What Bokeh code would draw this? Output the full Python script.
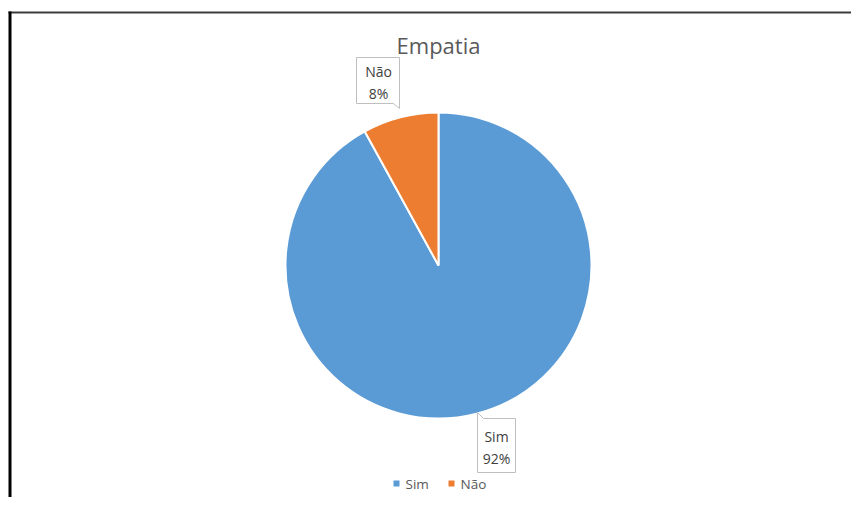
import math
from bokeh.plotting import figure
from bokeh.models import Range1d, ColumnDataSource
from bokeh.core.properties import value
from bokeh.embed import file_html
from bokeh.resources import INLINE

# ---- data ----
title = "Empatia"
categories = ["Sim", "Não"]
values = [92, 8]
colors = ["#5B9BD5", "#ED7D31"]

# ---- layout (screenshot pixel coordinates; y is negated) ----
W, H = 851, 497
CX, CY, R = 438, 265, 153
FONT = "Open Sans"

p = figure(width=W, height=H, output_backend="svg", toolbar_location=None,
           x_range=Range1d(0, W), y_range=Range1d(-H, 0),
           min_border=0, outline_line_color=None)
p.axis.visible = False
p.grid.visible = False
p.background_fill_color = "white"

# border (top and left lines of the original frame)
p.segment(x0=[8], y0=[-12], x1=[W], y1=[-12], line_color="#3c3c3c", line_width=2)
p.segment(x0=[9.5], y0=[-11], x1=[9.5], y1=[-H], line_color="black", line_width=3)

# pie wedges, clockwise from 12 o'clock
total = sum(values)
starts, ends, cum = [], [], 0.0
for v in values:
    a0 = math.pi / 2 - 2 * math.pi * cum / total
    a1 = a0 - 2 * math.pi * v / total
    starts.append(a0)
    ends.append(a1)
    cum += v
src = ColumnDataSource(dict(cat=categories, val=values, color=colors,
                            start=starts, end=ends))
p.wedge(x=CX, y=-CY, radius=R, start_angle="start", end_angle="end",
        direction="clock", fill_color="color", line_color="white", line_width=2,
        source=src)

# title
p.text(x=[CX], y=[-44], text=[title], text_font=value(FONT), text_font_size="22px",
       text_color="#595959", text_align="center", text_baseline="middle")

# data label callouts
pcts = [round(100 * v / total) for v in values]
callouts = {
    "Sim": dict(box=[(477, 412), (483, 418), (515, 418), (515, 472), (477, 472)],
                cx=496, l1=436, l2=458),
    "Não": dict(box=[(356, 57), (399, 57), (399, 108), (393, 103), (356, 103)],
                cx=378, l1=71, l2=93),
}
for cat, pct in zip(categories, pcts):
    c = callouts[cat]
    xs = [pt[0] for pt in c["box"]]
    ys = [-pt[1] for pt in c["box"]]
    p.patch(xs, ys, fill_color="white", line_color="#BFBFBF", line_width=1)
    p.text(x=[c["cx"], c["cx"]], y=[-c["l1"], -c["l2"]], text=[cat, f"{pct}%"],
           text_font=value(FONT), text_font_size="14px", text_color="#404040",
           text_align="center", text_baseline="middle")

# legend
leg_sq_x = [396, 451]
leg_tx_x = [405, 460]
p.scatter(x=leg_sq_x, y=[-483, -483], marker="square", size=6,
          fill_color=colors, line_color=None)
p.text(x=leg_tx_x, y=[-483, -483], text=categories, text_font=value(FONT),
       text_font_size="13.5px", text_color="#595959", text_align="left",
       text_baseline="middle")

open("out.html", "w").write(file_html(p, INLINE))
